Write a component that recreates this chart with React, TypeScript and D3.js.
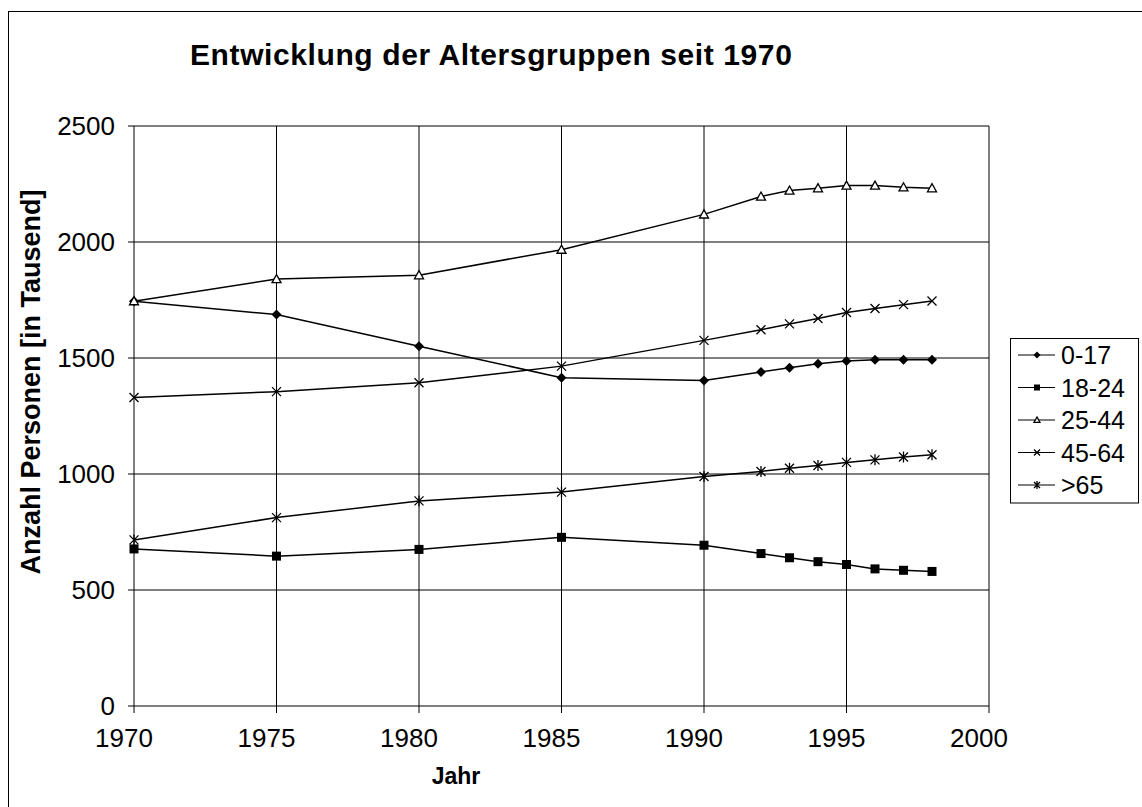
import React from "react";
import * as d3 from "d3";

const years = [1970, 1975, 1980, 1985, 1990, 1992, 1993, 1994, 1995, 1996, 1997, 1998];
const s0_17 = [1745, 1687, 1551, 1415, 1403, 1440, 1458, 1475, 1487, 1492, 1492, 1492];
const s18_24 = [677, 646, 675, 727, 693, 657, 639, 622, 610, 591, 585, 580];
const s25_44 = [1745, 1840, 1857, 1967, 2119, 2196, 2222, 2232, 2243, 2243, 2236, 2232];
const s45_64 = [1330, 1355, 1393, 1465, 1576, 1622, 1647, 1670, 1696, 1713, 1730, 1746];
const s65 = [716, 812, 884, 922, 989, 1011, 1025, 1037, 1050, 1061, 1073, 1083];
const seriesNames = ["0-17", "18-24", "25-44", "45-64", ">65"];
const markerTypes = ["diamond", "square", "triangle", "x", "asterisk"];
const xTicks = [1970, 1975, 1980, 1985, 1990, 1995, 2000];
const yTicks = [0, 500, 1000, 1500, 2000, 2500];

const FONT = "Liberation Sans, Arial, sans-serif";

function Marker({ type, x, y, s }: { type: string; x: number; y: number; s: number }) {
  const h = s / 2;
  if (type === "diamond")
    return <path d={`M${x},${y - h - 0.5}L${x + h + 0.5},${y}L${x},${y + h + 0.5}L${x - h - 0.5},${y}Z`} fill="#000" />;
  if (type === "square") return <rect x={x - h} y={y - h} width={s} height={s} fill="#000" />;
  if (type === "triangle")
    return <path d={`M${x},${y - h}L${x + h},${y + h * 0.8}L${x - h},${y + h * 0.8}Z`} fill="#fff" stroke="#000" strokeWidth={1.3} />;
  if (type === "x")
    return <path d={`M${x - h},${y - h}L${x + h},${y + h}M${x - h},${y + h}L${x + h},${y - h}`} stroke="#000" strokeWidth={1.3} />;
  return (
    <path
      d={`M${x - h},${y - h}L${x + h},${y + h}M${x - h},${y + h}L${x + h},${y - h}M${x},${y - h - 1}L${x},${y + h + 1}`}
      stroke="#000"
      strokeWidth={1.3}
    />
  );
}

export default function App() {
  const left = 134, right = 989, top = 126, bottom = 706;
  const x = d3.scaleLinear().domain([1970, 2000]).range([left, right]);
  const y = d3.scaleLinear().domain([0, 2500]).range([bottom, top]);
  const allSeries = [s0_17, s18_24, s25_44, s45_64, s65];
  const line = d3
    .line<number>()
    .x((_, i) => x(years[i]))
    .y((d) => y(d));

  const legX = 1010, legTop = 338, legRow = 32.5;

  return (
    <svg width={1142} height={807} style={{ position: "absolute", left: 0, top: 0, background: "#fff" }}>
      <rect x={0} y={0} width={1142} height={807} fill="#fff" />
      <rect x={8.5} y={11.5} width={1200} height={900} fill="none" stroke="#000" strokeWidth={1} />
      <text x={190} y={65} fontFamily={FONT} fontWeight="bold" fontSize={30} letterSpacing={0.6}>
        Entwicklung der Altersgruppen seit 1970
      </text>
      {yTicks.map((t) => (
        <g key={"y" + t}>
          <line x1={left - 6} x2={right} y1={y(t)} y2={y(t)} stroke="#000" strokeWidth={1} />
          <text x={115} y={y(t)} dy="0.36em" textAnchor="end" fontFamily={FONT} fontSize={26}>
            {t}
          </text>
        </g>
      ))}
      {xTicks.map((t) => (
        <g key={"x" + t}>
          <line x1={x(t)} x2={x(t)} y1={top} y2={bottom + 7} stroke="#000" strokeWidth={1} />
          <text x={x(t) - 10} y={747} textAnchor="middle" fontFamily={FONT} fontSize={26}>
            {t}
          </text>
        </g>
      ))}
      <text x={456} y={784} textAnchor="middle" fontFamily={FONT} fontWeight="bold" fontSize={23}>
        Jahr
      </text>
      <text
        transform={`translate(40,382) rotate(-90)`}
        textAnchor="middle"
        fontFamily={FONT}
        fontWeight="bold"
        fontSize={27}
      >
        Anzahl Personen [in Tausend]
      </text>
      {allSeries.map((s, si) => (
        <g key={"s" + si}>
          <path d={line(s) || ""} fill="none" stroke="#000" strokeWidth={1.5} />
          {s.map((v, i) => (
            <Marker key={i} type={markerTypes[si]} x={x(years[i])} y={y(v)} s={9} />
          ))}
        </g>
      ))}
      <rect x={legX + 0.5} y={legTop + 0.5} width={128} height={legRow * 5 + 2} fill="#fff" stroke="#000" strokeWidth={1} />
      {seriesNames.map((n, i) => {
        const cy = legTop + 17 + i * legRow;
        return (
          <g key={"l" + n}>
            <line x1={legX + 8} x2={legX + 45} y1={cy} y2={cy} stroke="#000" strokeWidth={1.2} />
            <Marker type={markerTypes[i]} x={legX + 27} y={cy} s={6} />
            <text x={legX + 51} y={cy} dy="0.36em" fontFamily={FONT} fontSize={25}>
              {n}
            </text>
          </g>
        );
      })}
    </svg>
  );
}
